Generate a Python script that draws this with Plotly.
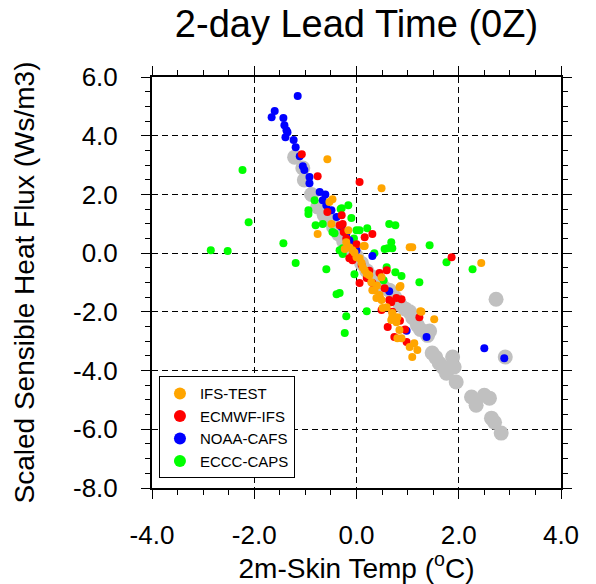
import plotly.graph_objects as go

# ---- data ----
obs_x = [-1.21, -1.05, -1.02, -0.88, -0.76, -0.66, -0.63, -0.53, -0.45, -0.35, -0.25, -0.10, 0.00, 0.10,
         0.20, 0.30, 0.40, 0.50, 0.64, 0.75, 0.85, 0.95, 1.04, 1.10, 1.19, 1.25, 1.39, 1.43, 1.48, 1.62,
         1.76, 1.88, 1.91, 1.95, 2.25, 2.34, 2.50, 2.60, 2.64, 2.70, 2.83, 2.73, 2.91, 1.55, 1.70]
obs_y = [3.27, 2.90, 2.49, 2.00, 1.57, 1.46, 1.29, 1.12, 0.90, 0.65, 0.40, 0.10, -0.10, -0.35,
         -0.60, -0.80, -1.00, -1.10, -1.26, -1.50, -1.75, -1.90, -2.00, -2.20, -2.45, -2.60, -2.80, -2.65, -3.40, -3.75,
         -4.09, -3.54, -3.88, -4.39, -4.90, -5.18, -4.84, -4.94, -5.62, -5.76, -6.13, -1.57, -3.54, -3.55, -3.90]

noaa_x = [-1.15, -1.60, -1.66, -1.43, -1.41, -1.37, -1.35, -1.39, -1.23, -1.19, -1.11, -1.05, -1.02, -0.92,
          -0.92, -0.72, -0.61, -0.66, -0.59, -0.49, -0.39, -0.29, -0.20, -0.14, -0.08, 0.00, 0.31, 0.64,
          0.98, 1.37, 2.50, 2.89]
noaa_y = [5.35, 4.84, 4.63, 4.60, 4.36, 4.19, 4.12, 3.95, 3.85, 3.61, 3.30, 2.96, 2.83, 2.59,
          2.38, 2.08, 2.00, 1.80, 1.63, 1.46, 1.23, 0.89, 0.65, 0.44, 0.27, 0.10, -0.10, -1.30,
          -2.64, -2.86, -3.24, -3.58]

ecmwf_x = [-1.07, -0.76, 0.06, -0.57, -0.29, -0.27, -0.25, -0.33, 0.16, 0.31, -0.08, -0.14, -0.08, 0.06,
           0.59, 0.45, 0.20, 0.31, 0.88, 0.49, 0.64, 0.45, 0.78, 0.68, 1.23, 0.98, 0.61, 0.74, 1.86,
           0.00, 0.10, 0.25, -0.20, 0.55, 0.85, 0.95, 0.70]
ecmwf_y = [3.37, 2.62, 2.42, 1.40, 1.29, 0.99, 0.72, 0.95, 0.54, 0.65, -0.07, -0.17, -0.24, -1.02,
           -0.58, -0.68, -0.85, -1.02, -1.57, -1.94, -1.60, -1.50, -1.53, -1.67, -2.18, -3.03, -2.52, -2.86, -0.14,
           0.30, -0.40, -0.60, 0.50, -1.20, -2.30, -2.60, -2.00]

ifs_x = [-0.57, 0.49, -0.47, -0.53, -0.49, -0.76, -0.16, -0.20, -0.14, -0.23, -0.08, 0.00, 0.16, 0.14,
         1.04, 1.09, 2.44, -0.04, 0.06, 0.10, 0.12, 0.16, 0.25, 0.29, 0.35, 0.31, 0.45, 0.49, 0.39,
         0.51, 0.59, 0.70, 0.70, 0.80, 0.78, 0.68, 0.86, 0.84, 0.49, 1.25, 1.27, 1.52, 0.84, 0.88,
         0.80, 1.04, 1.13, 1.19, 1.09, 0.20, 0.40]
ifs_y = [3.20, 2.21, 1.84, 1.74, 0.99, 0.65, 0.78, 0.37, 0.20, 0.14, 0.10, -0.14, 0.24, 0.24,
         0.20, 0.20, -0.34, 0.02, -0.17, -0.34, -0.48, -0.58, -0.75, -0.99, -1.26, -1.26, -1.43, -1.60, -1.53,
         -1.87, -1.84, -2.04, -2.18, -2.18, -2.35, -2.28, -1.12, -1.16, -0.82, -1.98, -2.00, -2.25, -2.62, -2.90,
         -2.90, -3.20, -3.07, -3.30, -3.54, -0.70, -1.10]

eccc_x = [-2.23, -2.11, -2.85, -2.52, -1.43, -1.19, -0.59, -0.94, -0.94, -0.82, -0.80, -0.66, -0.47, -0.31,
          -0.16, -0.29, -0.33, -0.27, -0.04, 0.00, -0.43, -0.27, -0.39, -0.20, -0.23, 0.64, 0.76, 0.21,
          0.06, 0.68, 0.70, 0.55, 1.43, 1.76, 2.27, 0.76, 0.88, 1.23, 0.59, 0.53, 0.20, -0.33, 0.35,
          0.61, -0.05, -0.10]
eccc_y = [2.83, 1.05, 0.10, 0.07, 0.34, -0.34, -0.55, 1.46, 1.33, 1.80, 0.95, 0.99, 0.72, 1.50,
          1.63, 1.53, 0.10, -0.03, -0.72, 0.78, 0.68, 0.17, -1.40, -2.15, -2.72, 0.99, 0.95, 0.85,
          0.78, 0.37, 0.17, 0.14, 0.27, -0.31, -0.55, -0.65, -0.78, -0.99, -0.48, -0.92, -1.98, -1.36, 0.00,
          0.17, 0.50, 1.20]

x_tickvals = [-4, -2, 0, 2, 4]
x_ticktext = ["-4.0", "-2.0", "0.0", "2.0", "4.0"]
y_tickvals = [6, 4, 2, 0, -2, -4, -6, -8]
y_ticktext = ["6.0", "4.0", "2.0", "0.0", "-2.0", "-4.0", "-6.0", "-8.0"]

FONT = "Liberation Sans, Arial, Helvetica, sans-serif"

fig = go.Figure()
fig.add_trace(go.Scatter(x=obs_x, y=obs_y, mode="markers", name="OBS", showlegend=False,
                         marker=dict(color="#C0C0C0", size=15, line=dict(width=0))))
fig.add_trace(go.Scatter(x=eccc_x, y=eccc_y, mode="markers", name="ECCC-CAPS", legendrank=4,
                         marker=dict(color="#00FF00", size=8, line=dict(width=0))))
fig.add_trace(go.Scatter(x=noaa_x, y=noaa_y, mode="markers", name="NOAA-CAFS", legendrank=3,
                         marker=dict(color="#0000FF", size=8, line=dict(width=0))))
fig.add_trace(go.Scatter(x=ecmwf_x, y=ecmwf_y, mode="markers", name="ECMWF-IFS", legendrank=2,
                         marker=dict(color="#FF0000", size=8, line=dict(width=0))))
fig.add_trace(go.Scatter(x=ifs_x, y=ifs_y, mode="markers", name="IFS-TEST", legendrank=1,
                         marker=dict(color="#FFA500", size=8, line=dict(width=0))))

axis_common = dict(
    showline=True, linecolor="black", linewidth=2, mirror="ticks", automargin=False,
    ticks="outside", ticklen=9, tickwidth=1, tickcolor="black",
    showgrid=True, gridcolor="black", gridwidth=1, griddash="6px,4px",
    zeroline=False, tickfont=dict(family=FONT, size=26, color="black"),
    minor=dict(ticks="outside", ticklen=5, tickwidth=1, tickcolor="black", dtick=0.5, showgrid=False),
)

fig.update_layout(
    width=596, height=584,
    margin=dict(l=152, r=35, t=77, b=96, autoexpand=False),
    paper_bgcolor="white", plot_bgcolor="white",
    font=dict(family=FONT, color="black"),
    title=dict(text="2-day Lead Time (0Z)", x=0.5, xref="paper", y=1 - 24 / 584, yref="container",
               xanchor="center", yanchor="middle", font=dict(family=FONT, size=38, color="black")),
    xaxis=dict(range=[-4, 4], tickvals=x_tickvals, ticktext=x_ticktext, ticklabelstandoff=14,
               title=dict(text="2m-Skin Temp (<sup>o</sup>C)", standoff=17,
                          font=dict(family=FONT, size=28, color="black")),
               **axis_common),
    yaxis=dict(range=[-8, 6], tickvals=y_tickvals, ticktext=y_ticktext, ticklabelstandoff=18,
               title=dict(text="Scaled Sensible Heat Flux (Ws/m3)", standoff=30,
                          font=dict(family=FONT, size=28, color="black")),
               **axis_common),
    legend=dict(x=0.017, y=0.024, xanchor="left", yanchor="bottom",
                bgcolor="white", bordercolor="black", borderwidth=1,
                font=dict(family=FONT, size=15, color="black"),
                itemsizing="constant", tracegroupgap=0),
)

fig.write_html("out.html")
